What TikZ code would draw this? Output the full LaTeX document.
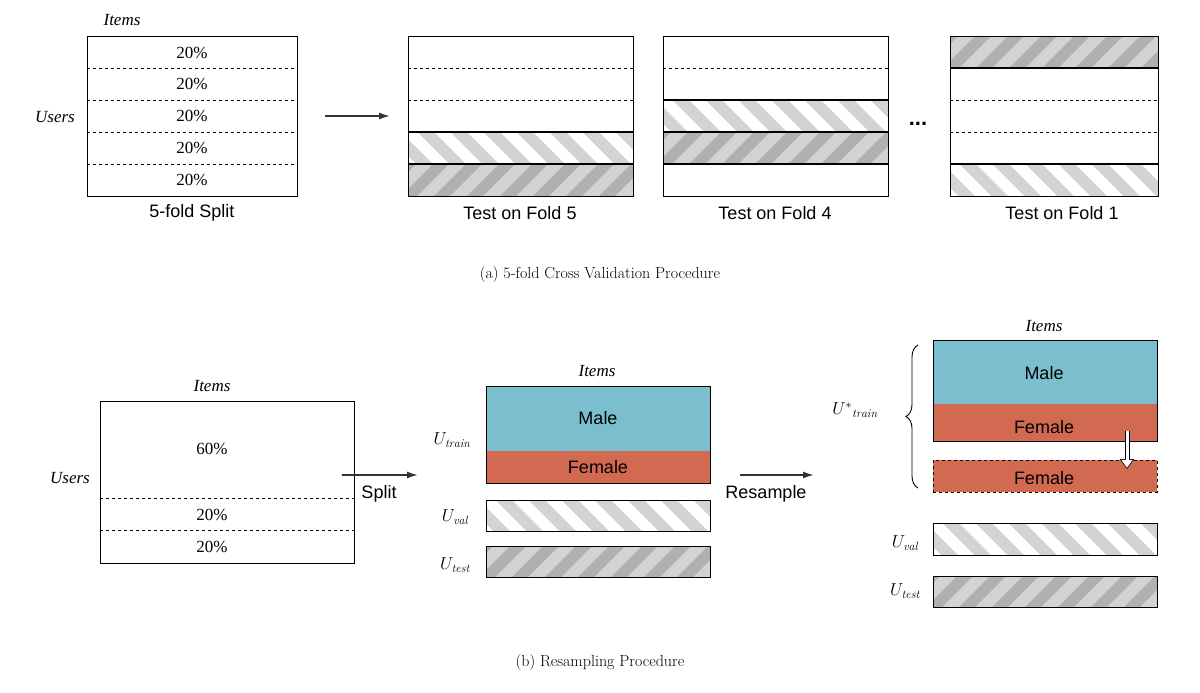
\documentclass[tikz,border=0pt]{standalone}
\usepackage{fontspec}
\newfontfamily\tms{Liberation Serif}
\newfontfamily\ars{Liberation Sans}
\usetikzlibrary{decorations.pathreplacing,arrows.meta}
\definecolor{lg}{HTML}{D3D3D3}
\definecolor{dg}{HTML}{B0B0B0}
\definecolor{mblue}{HTML}{7BBFCF}
\definecolor{fred}{HTML}{D26A52}
\tikzset{
  lbl/.style={font=\tms\fontsize{17}{19}\selectfont},
  ilbl/.style={font=\tms\itshape\fontsize{17}{19}\selectfont},
  slbl/.style={font=\ars\fontsize{18}{20}\selectfont},
  capt/.style={font=\fontsize{16}{18}\selectfont},
  box/.style={draw=black,line width=1pt},
  dsh/.style={dashed,line width=0.8pt},
  sol/.style={line width=1.2pt},
  arr/.style={-{Latex[length=11pt,width=7pt]},line width=1.6pt,black!80},
}
\newcommand\valrect[4]{%
 \begin{scope}\clip (#1,#2) rectangle (#3,#4);
 \fill[lg] (#1,#2) rectangle (#3,#4);
 \pgfmathsetmacro\hh{#4-#2}
 \foreach \k in {0,...,9}{\fill[white] ({#1-40+\k*33},#2) -- ++(16,0) -- ++(\hh,\hh) -- ++(-16,0) -- cycle;}
 \end{scope}}
\newcommand\testrect[4]{%
 \begin{scope}\clip (#1,#2) rectangle (#3,#4);
 \fill[lg] (#1,#2) rectangle (#3,#4);
 \pgfmathsetmacro\hh{#4-#2}
 \foreach \k in {0,...,9}{\fill[dg] ({#1-40+\k*33},#4) -- ++(16,0) -- ++(\hh,-\hh) -- ++(-16,0) -- cycle;}
 \end{scope}}
\begin{document}
\begin{tikzpicture}[x=1pt,y=-1pt]
\useasboundingbox (0,0) rectangle (1200,693);
% ---------- (a)
\node[ilbl] (it1) at (122,20) {Items};
\node[ilbl] (us1) at (55,117) {Users};
\draw[dsh] (87,68) -- (297,68) (87,100) -- (297,100) (87,132) -- (297,132) (87,164) -- (297,164);
\foreach \y in {53,84,116,148,180}{\node[lbl] at (192,\y) {20\%};}
\node[box,minimum width=210pt,minimum height=159pt,inner sep=0pt] (b1) at (192,116.5) {};
\node[slbl] (c1) at (192,213) {5-fold Split};
\coordinate (a1s) at (325,116); \coordinate (a1e) at (390,116);
\draw[arr] (a1s) -- (a1e);
% fold 5
\valrect{408}{132}{633}{164}
\testrect{408}{164}{633}{196}
\draw[dsh] (408,68) -- (633,68) (408,100) -- (633,100);
\draw[sol] (408,132) -- (633,132) (408,164) -- (633,164);
\node[box,minimum width=225pt,minimum height=159pt,inner sep=0pt] (f5) at (520.5,116.5) {};
\node[slbl] at (520,213) {Test on Fold 5};
% fold 4
\valrect{663}{100}{888}{132}
\testrect{663}{132}{888}{164}
\draw[dsh] (663,68) -- (888,68);
\draw[sol] (663,100) -- (888,100) (663,132) -- (888,132) (663,164) -- (888,164);
\node[box,minimum width=225pt,minimum height=159pt,inner sep=0pt] (f4) at (775.5,116.5) {};
\node[slbl] at (775,213) {Test on Fold 4};
\node[font=\ars\bfseries\fontsize{22}{24}\selectfont] (dots) at (918,124) {...};
% fold 1
\testrect{950}{37}{1158}{68}
\valrect{950}{164}{1158}{196}
\draw[dsh] (950,100) -- (1158,100) (950,132) -- (1158,132);
\draw[sol] (950,68) -- (1158,68) (950,164) -- (1158,164);
\node[box,minimum width=208pt,minimum height=159pt,inner sep=0pt] (f1) at (1054,116.5) {};
\node[slbl] at (1062,213) {Test on Fold 1};
\node[capt] (capa) at (600,275) {(a) 5-fold Cross Validation Procedure};
% ---------- (b)
\node[ilbl] at (212,386) {Items};
\node[ilbl] at (70,478) {Users};
\draw[dsh] (100,498) -- (354,498) (100,530) -- (354,530);
\node[lbl] at (212,449) {60\%};
\node[lbl] at (212,515) {20\%};
\node[lbl] at (212,547) {20\%};
\node[box,minimum width=254pt,minimum height=162pt,inner sep=0pt] (b2) at (227,482) {};
\coordinate (a2s) at (342,475); \coordinate (a2e) at (418,475);
\draw[arr] (a2s) -- (a2e);
\node[slbl] at (379,494) {Split};
% middle
\node[ilbl] at (597,371) {Items};
\fill[mblue] (486,386) rectangle (710,451);
\fill[fred] (486,451) rectangle (710,483);
\node[slbl] at (598,418) {Male};
\node[slbl] at (598,467) {Female};
\node[box,minimum width=224pt,minimum height=97pt,inner sep=0pt] (tr) at (598,434.5) {};
\node[lbl] at (452,440) {$U_{\mathit{train}}$};
\valrect{486}{500}{710}{531}
\node[box,minimum width=224pt,minimum height=31pt,inner sep=0pt] (va) at (598,515.5) {};
\node[lbl] at (455,517) {$U_{\mathit{val}}$};
\testrect{486}{546}{710}{577}
\node[box,minimum width=224pt,minimum height=31pt,inner sep=0pt] (te) at (598,561.5) {};
\node[lbl] at (455,565) {$U_{\mathit{test}}$};
\coordinate (a3s) at (740,475); \coordinate (a3e) at (814,475);
\draw[arr] (a3s) -- (a3e);
\node[slbl] at (766,494) {Resample};
% right
\node[ilbl] at (1044,326) {Items};
\fill[mblue] (933,340) rectangle (1157,404);
\fill[fred] (933,404) rectangle (1157,441);
\node[slbl] at (1044,373) {Male};
\node[slbl] at (1044,427) {Female};
\node[box,minimum width=224pt,minimum height=101pt,inner sep=0pt] (tr2) at (1045,390.5) {};
\fill[fred] (933,460) rectangle (1157,492);
\node[slbl] at (1044,478) {Female};
\node[draw,dashed,line width=0.9pt,minimum width=224pt,minimum height=32pt,inner sep=0pt] (dup) at (1045,476) {};
\draw[decorate,decoration={brace,amplitude=12pt},line width=0.9pt] (918,488) -- (918,345);
\node[lbl] at (855,410) {$U^{*}{}_{\mathit{train}}$};
\coordinate (h1) at (1127,431); \coordinate (h2) at (1127,469);
\draw[-{Triangle[open,length=10pt,width=14pt]},line width=5pt,black] (h1) -- (h2);
\draw[-{Triangle[fill=white,length=8pt,width=11pt]},line width=3pt,white,shorten >=1.2pt] (h1) -- (h2);
\valrect{933}{523}{1157}{555}
\node[box,minimum width=224pt,minimum height=32pt,inner sep=0pt] (va2) at (1045,539) {};
\node[lbl] at (905,543) {$U_{\mathit{val}}$};
\testrect{933}{576}{1157}{607}
\node[box,minimum width=224pt,minimum height=31pt,inner sep=0pt] (te2) at (1045,591.5) {};
\node[lbl] at (905,591) {$U_{\mathit{test}}$};
\node[capt] (capb) at (600,663) {(b) Resampling Procedure};
\end{tikzpicture}
\end{document}
